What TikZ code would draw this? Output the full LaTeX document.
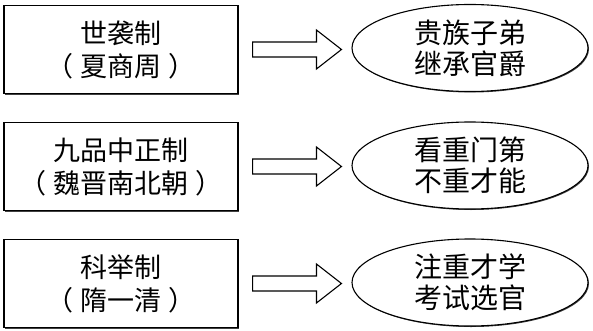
\documentclass[tikz,border=0pt]{standalone}
\usepackage{fontspec}
\newfontfamily\cjk{Noto Sans CJK SC}
\usetikzlibrary{shapes.geometric,shadows,calc}
\tikzset{
  sysbox/.style={draw, line width=1.1pt, fill=white, minimum width=234pt, minimum height=88pt, align=center, font=\cjk\fontsize{27}{33}\selectfont, drop shadow={shadow xshift=1.2pt, shadow yshift=-1.2pt, fill=black!75, opacity=1}},
  result/.style={ellipse, draw, line width=1.1pt, fill=white, minimum width=236pt, minimum height=87pt, inner sep=0pt, align=center, font=\cjk\fontsize{28}{31}\selectfont, drop shadow={shadow xshift=1pt, shadow yshift=-1pt, fill=black!75, opacity=1}},
  fatarrow/.style={draw, line width=1.1pt, line join=miter}
}
\newcommand{\era}[1]{（\hspace{0.25em}#1\hspace{0.25em}）}

\begin{document}
\begin{tikzpicture}[x=1pt,y=-1pt]
  \useasboundingbox (0,0) rectangle (593,331);

  % Systems
  \node[sysbox] (sys1) at (121,49.5) {世袭制\\\era{夏商周}};
  \node[sysbox] (sys2) at (121,166.5) {九品中正制\\\era{魏晋南北朝}};
  \node[sysbox] (sys3) at (121,283.5) {科举制\\\era{隋一清}};

  % Features
  \node[result] (res1) at (470,48) {贵族子弟\\继承官爵};
  \node[result] (res2) at (470,165.5) {看重门第\\不重才能};
  \node[result] (res3) at (470,282.5) {注重才学\\考试选官};

  % Hollow arrows
  \foreach \i in {1,2,3}
    \draw[fatarrow] let \p1=(sys\i.east), \p2=(res\i.west) in
      (\x1+14pt,\y1+7.5pt) -- (\x2-35pt,\y1+7.5pt) -- (\x2-35pt,\y1+19.5pt)
      -- (\x2-10pt,\y1) -- (\x2-35pt,\y1-19.5pt) -- (\x2-35pt,\y1-7.5pt)
      -- (\x1+14pt,\y1-7.5pt) -- cycle;
\end{tikzpicture}
\end{document}
